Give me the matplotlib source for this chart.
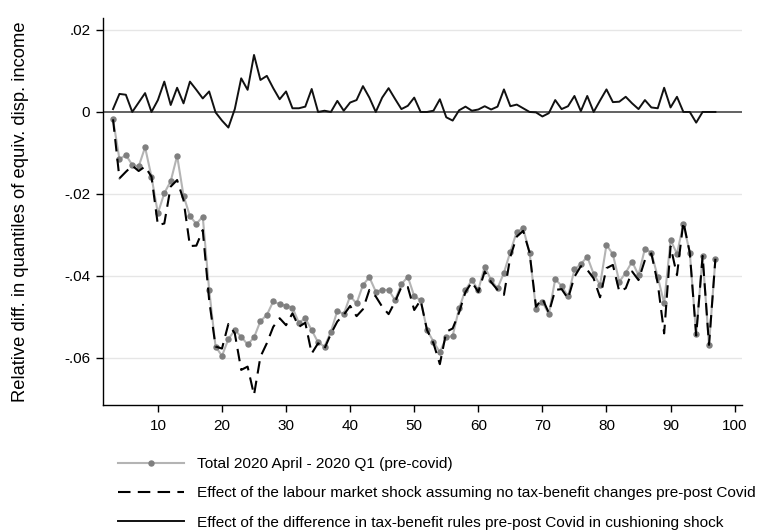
import numpy as np
import matplotlib
matplotlib.use("Agg")
import matplotlib.pyplot as plt

plt.rcParams['font.family'] = ['Liberation Sans Narrow', 'Liberation Sans', 'DejaVu Sans']

# quantiles of equivalised disposable income
quantile = np.arange(3, 98)

# total change, 2020 April vs 2020 Q1
total = [
    -0.0018, -0.0115, -0.0105, -0.0129, -0.0133, -0.0086, -0.0158, -0.0247, -0.0198, -0.0169,
    -0.0107, -0.0204, -0.0254, -0.0273, -0.0255, -0.0434, -0.0572, -0.0595, -0.0554, -0.0532,
    -0.0548, -0.0567, -0.0550, -0.0510, -0.0495, -0.0462, -0.0469, -0.0472, -0.0477, -0.0514,
    -0.0503, -0.0532, -0.0562, -0.0572, -0.0536, -0.0485, -0.0493, -0.0449, -0.0467, -0.0422,
    -0.0403, -0.0438, -0.0434, -0.0434, -0.0459, -0.0420, -0.0402, -0.0449, -0.0459, -0.0532,
    -0.0560, -0.0586, -0.0550, -0.0546, -0.0479, -0.0434, -0.0410, -0.0434, -0.0377, -0.0410,
    -0.0430, -0.0392, -0.0341, -0.0292, -0.0284, -0.0343, -0.0480, -0.0463, -0.0493, -0.0408,
    -0.0424, -0.0450, -0.0384, -0.0371, -0.0353, -0.0395, -0.0422, -0.0324, -0.0347, -0.0414,
    -0.0392, -0.0365, -0.0398, -0.0333, -0.0343, -0.0402, -0.0467, -0.0312, -0.0346, -0.0273,
    -0.0343, -0.0542, -0.0351, -0.0568, -0.0358,
]

# labour market shock with unchanged tax-benefit rules
labour = [
    -0.0018, -0.0162, -0.0146, -0.0131, -0.0144, -0.0133, -0.0158, -0.0276, -0.0272, -0.0182,
    -0.0166, -0.0215, -0.0327, -0.0326, -0.0288, -0.0459, -0.0572, -0.0577, -0.0517, -0.0540,
    -0.0629, -0.0621, -0.0690, -0.0597, -0.0564, -0.0524, -0.0503, -0.0520, -0.0491, -0.0524,
    -0.0514, -0.0589, -0.0564, -0.0577, -0.0541, -0.0511, -0.0495, -0.0473, -0.0498, -0.0481,
    -0.0434, -0.0450, -0.0475, -0.0493, -0.0463, -0.0427, -0.0427, -0.0483, -0.0459, -0.0532,
    -0.0564, -0.0615, -0.0536, -0.0528, -0.0489, -0.0439, -0.0415, -0.0439, -0.0389, -0.0415,
    -0.0434, -0.0446, -0.0353, -0.0304, -0.0290, -0.0343, -0.0475, -0.0455, -0.0490, -0.0434,
    -0.0432, -0.0455, -0.0402, -0.0376, -0.0385, -0.0406, -0.0452, -0.0381, -0.0373, -0.0438,
    -0.0430, -0.0389, -0.0410, -0.0361, -0.0345, -0.0418, -0.0540, -0.0328, -0.0398, -0.0268,
    -0.0343, -0.0545, -0.0351, -0.0568, -0.0358,
]

# cushioning effect of tax-benefit rule changes
rules = [
    0.0007, 0.0044, 0.0042, 0.0000, 0.0023, 0.0046, 0.0000, 0.0029, 0.0074, 0.0017,
    0.0059, 0.0021, 0.0074, 0.0054, 0.0033, 0.0050, -0.0001, -0.0021, -0.0038, 0.0007,
    0.0082, 0.0054, 0.0139, 0.0078, 0.0088, 0.0058, 0.0031, 0.0050, 0.0009, 0.0009,
    0.0013, 0.0056, 0.0000, 0.0003, 0.0000, 0.0027, 0.0003, 0.0023, 0.0029, 0.0063,
    0.0035, 0.0000, 0.0035, 0.0058, 0.0032, 0.0007, 0.0015, 0.0035, 0.0000, 0.0000,
    0.0003, 0.0031, -0.0013, -0.0021, 0.0004, 0.0013, 0.0003, 0.0006, 0.0014, 0.0006,
    0.0013, 0.0055, 0.0014, 0.0018, 0.0009, 0.0000, -0.0001, -0.0011, -0.0003, 0.0029,
    0.0007, 0.0014, 0.0039, 0.0002, 0.0039, 0.0000, 0.0028, 0.0055, 0.0024, 0.0025,
    0.0037, 0.0021, 0.0007, 0.0029, 0.0011, 0.0009, 0.0059, 0.0011, 0.0037, 0.0000,
    0.0000, -0.0026, 0.0000, 0.0000, 0.0000,
]

yticks = [0.02, 0, -0.02, -0.04, -0.06]
ytick_labels = [".02", "0", "-.02", "-.04", "-.06"]
xticks = [10, 20, 30, 40, 50, 60, 70, 80, 90, 100]

labels = [
    "Total 2020 April - 2020 Q1 (pre-covid)",
    "Effect of the labour market shock assuming no tax-benefit changes pre-post Covid",
    "Effect of the difference in tax-benefit rules pre-post Covid in cushioning shock",
]

fig = plt.figure(figsize=(7.67, 5.31), dpi=100)
ax = fig.add_axes([0.134, 0.237, 0.833, 0.729])

for t in [0.02, -0.02, -0.04, -0.06]:
    ax.axhline(t, color="#e6e6e6", lw=1.0, zorder=0)
ax.axhline(0, color="#555555", lw=1.3, zorder=1)

l1, = ax.plot(quantile, total, color="#b4b4b4", lw=1.5, marker="o",
              markersize=3.6, markerfacecolor="#7f7f7f", markeredgecolor="#7f7f7f",
              zorder=3)
l2, = ax.plot(quantile, labour, color="black", lw=1.5, dashes=(6, 3.5), zorder=4)
l3, = ax.plot(quantile, rules, color="#111111", lw=1.4, zorder=4)

ax.set_xlim(1.4, 101.1)
ax.set_ylim(-0.0715, 0.0229)
ax.set_xticks(xticks)
ax.set_xticklabels([str(v) for v in xticks])
ax.set_yticks(yticks)
ax.set_yticklabels(ytick_labels)
ax.tick_params(axis="both", direction="out", length=5, width=1, labelsize=11, colors="black")
ax.tick_params(axis="x", pad=5)
ax.tick_params(axis="y", pad=4)

for side in ["top", "right"]:
    ax.spines[side].set_visible(False)
for side in ["left", "bottom"]:
    ax.spines[side].set_linewidth(1.0)

ax.set_ylabel("Relative diff. in quantiles of equiv. disp. income", fontsize=13.2,
              family=["Liberation Sans", "DejaVu Sans"], labelpad=25)

fig.legend([l1, l2, l3], labels, loc="upper left", bbox_to_anchor=(0.154, 0.139),
           frameon=False, fontsize=11.1, handlelength=4.3, handletextpad=0.8,
           labelspacing=0.99, borderpad=0, borderaxespad=0)

fig.savefig("out.png", dpi=100)
